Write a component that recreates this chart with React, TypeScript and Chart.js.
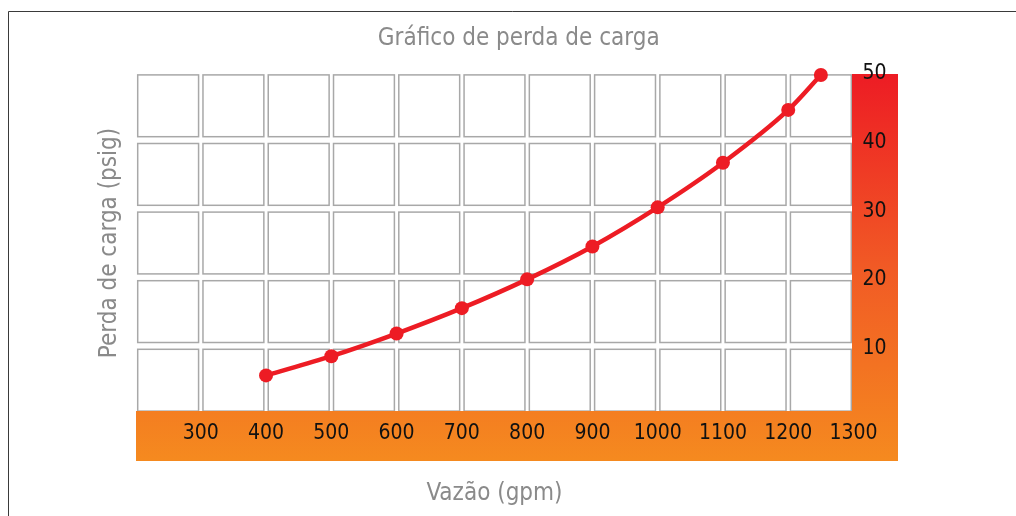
import React, { useEffect, useRef } from 'react';
import { Chart, registerables } from 'chart.js';

Chart.register(...registerables);

// ---- data ----
const FLOW_GPM = [400, 500, 600, 700, 800, 900, 1000, 1100, 1200, 1250];
const PRESSURE_LOSS_PSIG = [5.7, 8.5, 11.8, 15.5, 19.7, 24.5, 30.2, 36.7, 44.4, 49.5];
const X_TICKS = [300, 400, 500, 600, 700, 800, 900, 1000, 1100, 1200, 1300];
const Y_TICKS = [10, 20, 30, 40, 50];
const X_MIN = 200;
const X_MAX = 1300;
const Y_MIN = 0;
const Y_MAX = 50;
const TITLE = 'Gráfico de perda de carga';
const X_TITLE = 'Vazão (gpm)';
const Y_TITLE = 'Perda de carga (psig)';

const FONT = "'DejaVu Sans Condensed', 'DejaVu Sans', sans-serif";
const GRAY = '#8a8a8a';
const RED = '#ED1C24';

const decorPlugin = {
  id: 'decor',
  beforeDraw(chart: any) {
    const { ctx, chartArea: a, scales } = chart;
    ctx.save();
    // outer frame (top and left edges)
    ctx.strokeStyle = '#3a3a3a';
    ctx.lineWidth = 1;
    ctx.beginPath();
    ctx.moveTo(8.5, chart.height);
    ctx.lineTo(8.5, 11.5);
    ctx.lineTo(chart.width, 11.5);
    ctx.stroke();

    // grid cells
    const xs = [X_MIN, ...X_TICKS].map((v) => scales.x.getPixelForValue(v));
    const ys = [Y_MIN, ...Y_TICKS].map((v) => scales.y.getPixelForValue(v));
    ctx.strokeStyle = '#a8a8a8';
    ctx.lineWidth = 1.5;
    for (let i = 0; i < xs.length - 1; i++) {
      for (let j = 0; j < ys.length - 1; j++) {
        const l = xs[i] + 2.2;
        const r = xs[i + 1] - 2.2;
        const t = ys[j + 1] + 3.4;
        const b = ys[j] - 3.4;
        ctx.strokeRect(l, t, r - l, b - t);
      }
    }

    // L-shaped gradient band
    const bandRight = a.right + 44.5;
    const bandTop = a.top + 2.5;
    const bandBottom = a.bottom + 46.5;
    const grad = ctx.createLinearGradient(0, bandTop, 0, bandBottom);
    grad.addColorStop(0, '#ED1C24');
    grad.addColorStop(0.5, '#F15A25');
    grad.addColorStop(1, '#F58A1F');
    ctx.fillStyle = grad;
    ctx.fillRect(a.left + 0.5, a.bottom - 3.5, bandRight - a.left - 0.5, bandBottom - (a.bottom - 3.5));
    ctx.fillRect(a.right - 1.5, bandTop, bandRight - a.right + 1.5, bandBottom - bandTop);

    // chart title
    ctx.fillStyle = GRAY;
    ctx.font = `24px ${FONT}`;
    ctx.textAlign = 'center';
    ctx.textBaseline = 'middle';
    ctx.fillText(TITLE, (a.left + bandRight) / 2 + 2, 38.5);
    ctx.restore();
  },
};

export default function App() {
  const canvasRef = useRef<HTMLCanvasElement | null>(null);

  useEffect(() => {
    if (!canvasRef.current) return;
    const chart = new Chart(canvasRef.current, {
      type: 'line',
      data: {
        datasets: [
          {
            data: FLOW_GPM.map((x, i) => ({ x, y: PRESSURE_LOSS_PSIG[i] })),
            borderColor: RED,
            backgroundColor: RED,
            borderWidth: 4.5,
            pointRadius: 7,
            pointBorderWidth: 0,
            pointBackgroundColor: RED,
            cubicInterpolationMode: 'monotone',
            fill: false,
            clip: false,
            yAxisID: 'y',
          },
        ],
      },
      options: {
        responsive: false,
        maintainAspectRatio: false,
        animation: false,
        devicePixelRatio: 1,
        layout: { padding: { left: 0, top: 71.5, right: 116.5, bottom: 0 } },
        plugins: {
          legend: { display: false },
          tooltip: { enabled: false },
          title: { display: false },
        },
        scales: {
          x: {
            type: 'linear',
            position: 'bottom',
            min: X_MIN,
            max: X_MAX,
            afterBuildTicks: (s: any) => {
              s.ticks = X_TICKS.map((v) => ({ value: v }));
            },
            afterFit: (s: any) => {
              s.height = 101.5;
            },
            ticks: {
              autoSkip: false,
              maxRotation: 0,
              padding: 6,
              color: '#111',
              font: { family: FONT, size: 21 },
              callback: (v: any) => String(v),
            },
            grid: { display: false, drawTicks: false },
            border: { display: false },
            title: {
              display: true,
              text: X_TITLE,
              color: GRAY,
              font: { family: FONT, size: 24 },
              padding: { top: 0, bottom: 8 },
            },
          },
          y: {
            type: 'linear',
            position: 'left',
            min: Y_MIN,
            max: Y_MAX,
            afterFit: (s: any) => {
              s.width = 135.5;
            },
            ticks: { display: false },
            grid: { display: false, drawTicks: false },
            border: { display: false },
            title: {
              display: true,
              text: Y_TITLE,
              color: GRAY,
              font: { family: FONT, size: 24 },
              padding: { top: 95, bottom: 0 },
            },
          },
          y2: {
            type: 'linear',
            position: 'right',
            min: Y_MIN,
            max: Y_MAX,
            afterBuildTicks: (s: any) => {
              s.ticks = Y_TICKS.map((v) => ({ value: v }));
            },
            afterFit: (s: any) => {
              s.width = 46;
            },
            ticks: {
              padding: 9,
              labelOffset: 2.5,
              color: '#111',
              font: { family: FONT, size: 21 },
              callback: (v: any) => String(v),
            },
            grid: { display: false, drawTicks: false },
            border: { display: false },
          },
        },
      } as any,
      plugins: [decorPlugin],
    });
    return () => chart.destroy();
  }, []);

  return (
    <div
      style={{
        position: 'fixed',
        left: 0,
        top: 0,
        width: 1016,
        height: 516,
        background: '#fff',
        overflow: 'hidden',
      }}
    >
      <canvas ref={canvasRef} width={1016} height={516} style={{ display: 'block' }} />
    </div>
  );
}
